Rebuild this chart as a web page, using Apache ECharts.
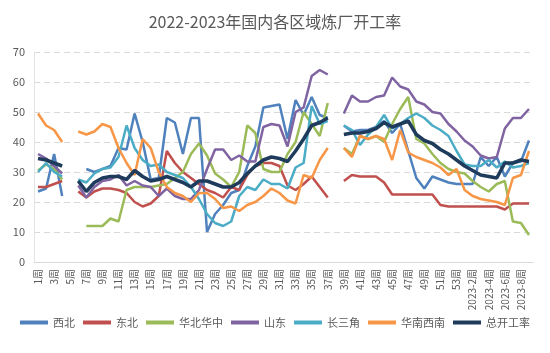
<!DOCTYPE html>
<html>
<head>
<meta charset="utf-8">
<script src="https://cdn.jsdelivr.net/npm/echarts@6/dist/echarts.min.js"></script>
<style>
  html, body { margin: 0; padding: 0; background: #fff; }
  #chart { width: 550px; height: 353px; }
</style>
</head>
<body>
<div id="chart"></div>
<script>
// week labels: 2022 weeks 1-53, then 2023 weeks 1-9
const weeks = [
  '1周','2周','3周','4周','5周','6周','7周','8周','9周','10周',
  '11周','12周','13周','14周','15周','16周','17周','18周','19周','20周',
  '21周','22周','23周','24周','25周','26周','27周','28周','29周','30周',
  '31周','32周','33周','34周','35周','36周','37周','38周','39周','40周',
  '41周','42周','43周','44周','45周','46周','47周','48周','49周','50周',
  '51周','52周','53周',
  '2023-1周','2023-2周','2023-3周','2023-4周','2023-5周','2023-6周','2023-7周','2023-8周','2023-9周'
]

const seriesNames = ['西北', '东北', '华北华中', '山东', '长三角', '华南西南', '总开工率']
const colors = ['#4F81BD', '#C0504D', '#9BBB59', '#8064A2', '#4BACC6', '#F79646', '#1F3B5C']

const xibei = [23.5, 24.5, 36, 22, null, null, 31, 30, 31, 32,
  38, 37.5, 49.5, 40, 27.5, 28, 48, 46.5, 36, 48,
  48, 10, 16, 19, 23, 24, 32, 38.5, 51.5, 52,
  52.5, 41, 54, 49, 55, 49, 48, null, 45.5, 43.5,
  44, 44, 45, 47, 43, 46, 37, 28, 24.5, 28.5,
  27.5, 26.5, 26, 26, 26, 35, 32, 35, 28.5, 33,
  33.5, 40.5]

const dongbei = [25, 25, 26, 27, null, 23.5, 21.5, 23.5, 24.5, 24.5,
  24, 23, 20, 18.5, 19.5, 22, 37, 33, 30, 28,
  26, 24, 23, 21.5, 25, 24, 29, 32, 33, 33,
  32, 25.5, 24, 26, 28.5, 25, 21.5, null, 27, 29,
  28.5, 28.5, 28.5, 26.5, 22.5, 22.5, 22.5, 22.5, 22.5, 22.5,
  19, 18.5, 18.5, 18.5, 18.5, 18.5, 18.5, 18.5, 17.5, 19.5,
  19.5, 19.5]

const huabei = [30.5, 32.5, 31, 27.5, null, null, 12, 12, 12, 14.5,
  13.5, 24, 25, 25, 25, 25.5, 26, 28, 30, 36,
  39.5, 35.5, 29.5, 27.5, 25, 30, 45.5, 43, 31, 30,
  30, 36, 40, 50, 46, 42, 53, null, 38, 36,
  42, 41, 42, 40, 46, 51, 55, 41, 39.5, 36,
  33, 31, 30, 29.5, 27, 25, 23.5, 26, 27, 13.5,
  13, 9]

const shandong = [36, 34.5, 32, 29.5, null, 25.5, 21.5, 25, 27, 27.5,
  29, 25.5, 27, 25.5, 25, 22, 24.5, 22, 21, 21,
  24, 31, 37.5, 37.5, 34, 35.5, 33.5, 33.5, 45, 46,
  45.5, 38.5, 50, 51.5, 62, 64, 62.5, null, 49.5, 55.5,
  53.5, 53.5, 55, 55.5, 61.5, 58.5, 57.5, 53.5, 52.5, 50,
  49.5, 46, 43.5, 40.5, 38.5, 35.5, 34.5, 35, 44.5, 48,
  48, 51]

const changsanjiao = [30, 33, 30, 28.5, null, 27.5, 26.5, 29.5, 31, 31.5,
  35, 45.5, 38, 34, 32, 32.5, 30, 29, 28, 25,
  21, 16, 13, 12, 13.5, 22, 25, 24, 27.5, 26,
  26, 24.5, 31.5, 33, 52, 46, 47, null, 45.5, 44,
  39, 42.5, 45, 49, 44.5, 46, 48, 49.5, 48, 45.5,
  44, 42, 37, 32.5, 32, 32, 34, 31.5, 33.5, 31.5,
  32, 33]

const huanan = [49.5, 45.5, 44, 40, null, 43.5, 42.5, 43.5, 46, 45,
  38, 33, 29, 41, 38, 30, 25, 23, 22, 20,
  23, 23, 21, 18, 18.5, 17, 19, 20, 22, 24.5,
  23, 20.5, 19.5, 29, 28, 34, 38, null, 38, 35,
  42, 41, 42, 41, 34, 44, 36.5, 35, 34, 33,
  31.5, 29, 31, 24, 22, 21, 20.5, 20, 19, 28,
  29, 37]

const total = [34.5, 34, 33, 32, null, 27, 23.5, 26.5, 28, 28.5,
  28.5, 27.5, 30.5, 28.5, 27, 27.5, 28.5, 27.5, 26.5, 25,
  27, 27, 26, 25, 25, 26.5, 29.5, 32, 34, 35,
  34.5, 33.5, 37, 41, 45.5, 46.5, 48, null, 42.5, 43,
  43, 43.5, 44.5, 46.5, 45, 46, 47, 42.5, 40.5, 39.5,
  37.5, 36, 34, 32, 30.5, 29, 28.5, 28, 33, 33,
  34, 33.5]

const yTicks = { min: 0, max: 70, step: 10 }

const seriesData = [xibei, dongbei, huabei, shandong, changsanjiao, huanan, total]

const chart = echarts.init(document.getElementById('chart'))

const option = {
  animation: false,
  backgroundColor: '#fff',
  textStyle: { fontFamily: 'Noto Sans CJK SC, sans-serif' },
  title: {
    text: '2022-2023年国内各区域炼厂开工率',
    left: 'center',
    top: 9,
    textStyle: { fontSize: 16, fontWeight: 'normal', color: '#595959' }
  },
  legend: {
    data: seriesNames,
    left: 15,
    top: 312,
    icon: 'rect',
    itemWidth: 28,
    itemHeight: 4,
    itemGap: 8,
    textStyle: { fontSize: 11, color: '#595959' }
  },
  grid: { left: 34, right: 17, top: 52, bottom: 91 },
  xAxis: {
    type: 'category',
    data: weeks,
    boundaryGap: true,
    axisLine: { lineStyle: { color: '#d9d9d9' } },
    axisTick: { show: false },
    axisLabel: { interval: 1, rotate: 90, fontSize: 10, color: '#595959', margin: 7 }
  },
  yAxis: {
    type: 'value',
    min: yTicks.min,
    max: yTicks.max,
    interval: yTicks.step,
    axisLine: { show: true, lineStyle: { color: '#e3e3e3' } },
    axisTick: { show: false },
    axisLabel: { fontSize: 11, color: '#595959', margin: 9 },
    splitLine: { lineStyle: { color: '#d9d9d9', type: [6, 4] } }
  },
  series: seriesNames.map((name, i) => ({
    name: name,
    type: 'line',
    data: seriesData[i],
    symbol: 'none',
    connectNulls: false,
    color: colors[i],
    lineStyle: { width: name === '总开工率' ? 3.5 : 2.5, color: colors[i] }
  }))
}

chart.setOption(option)
</script>
</body>
</html>
